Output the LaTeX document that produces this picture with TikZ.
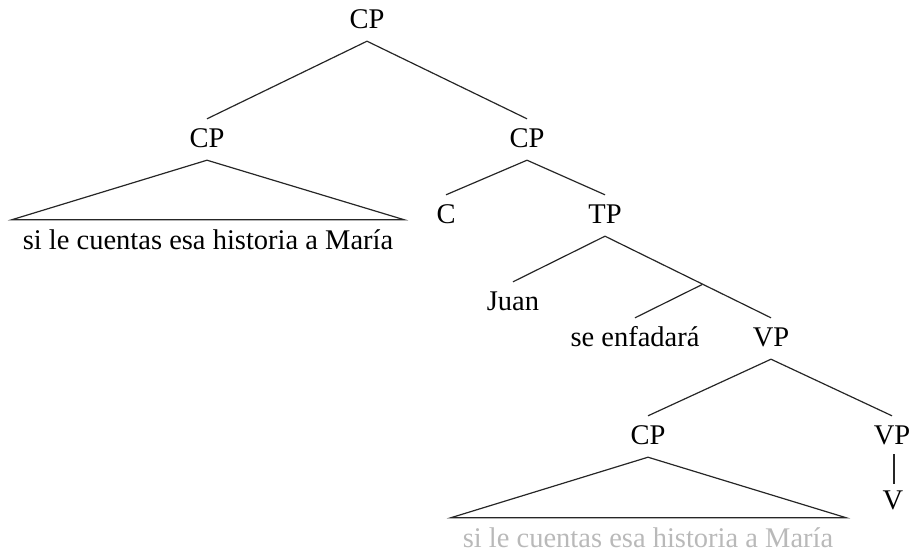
\documentclass[tikz,border=0pt]{standalone}
\usepackage{fontspec}
\setmainfont{Liberation Serif}
\usetikzlibrary{calc}
\begin{document}
\begin{tikzpicture}[x=1pt,y=-1pt,
  lab/.style={anchor=base,inner xsep=0pt,inner ysep=9pt,text height=19pt,text depth=4pt,font=\fontsize{28.5}{34}\selectfont},
  leaf/.style={anchor=base,inner xsep=0pt,inner ysep=9pt,text height=20pt,text depth=0pt,font=\fontsize{28.5}{34}\selectfont},
  br/.style={line width=1.2pt,black!85}]
\useasboundingbox (0,0) rectangle (912,555);
\node[lab] (root) at (367,28) {CP};
\node[lab] (cpL) at (207,147) {CP};
\node[lab] (cpR) at (527,147) {CP};
\node[leaf] (txtL) at (208,249) {si le cuentas esa historia a María};
\node[lab] (c) at (446,223) {C};
\node[lab] (tp) at (605,223) {TP};
\node[lab] (juan) at (513,310) {Juan};
\node[lab] (se) at (635,346) {se enfadará};
\node[lab] (vp) at (771,346) {VP};
\coordinate (tbar) at (702,284.6);
\node[lab] (cpB) at (648,444) {CP};
\node[lab] (vpR) at (892,444) {VP};
\node[leaf,text=gray!55] (txtB) at (648,547) {si le cuentas esa historia a María};
\node[lab] (v) at (893,509) {V};
\draw[br] (root.south) -- (cpL.north);
\draw[br] (root.south) -- (cpR.north);
\draw[br] (cpL.south) -- ([xshift=-11pt]txtL.north west) -- ([xshift=11pt]txtL.north east) -- cycle;
\draw[br] (cpR.south) -- (c.north);
\draw[br] (cpR.south) -- (tp.north);
\draw[br] (tp.south) -- (juan.north);
\draw[br] (tp.south) -- (vp.north);
\draw[br] (tbar) -- (se.north);
\draw[br] (vp.south) -- (cpB.north);
\draw[br] (vp.south) -- (vpR.north);
\draw[br] (cpB.south) -- ([xshift=-12pt]txtB.north west) -- ([xshift=13pt]txtB.north east) -- cycle;
\draw[br] ([xshift=2pt,yshift=3pt]vpR.south) -- ([xshift=1pt,yshift=-3pt]v.north);
\end{tikzpicture}
\end{document}
